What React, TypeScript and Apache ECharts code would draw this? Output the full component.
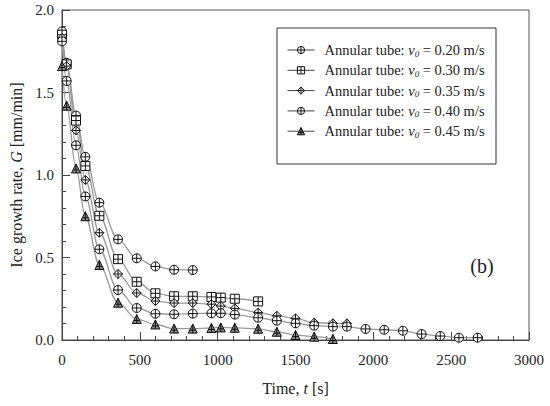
import React, { useEffect, useRef } from "react";
import * as echarts from "echarts";

const FONT = "'Liberation Serif', 'Times New Roman', serif";

// Time points [s] and ice growth rate G [mm/min] for each inlet velocity
const t020 = [0, 30, 90, 150, 240, 360, 480, 600, 720, 840];
const g020 = [1.87, 1.68, 1.36, 1.11, 0.832, 0.61, 0.495, 0.446, 0.426, 0.424];

const t030 = [0, 30, 90, 150, 240, 360, 480, 600, 720, 840, 960, 1020, 1110, 1260];
const g030 = [1.85, 1.67, 1.33, 1.055, 0.753, 0.49, 0.353, 0.283, 0.265, 0.265, 0.261, 0.257, 0.25, 0.234];

const t035 = [0, 30, 90, 150, 240, 360, 480, 600, 720, 840, 960, 1020, 1110, 1260, 1380, 1500, 1620, 1740, 1830];
const g035 = [1.83, 1.66, 1.27, 0.97, 0.65, 0.4, 0.285, 0.236, 0.224, 0.224, 0.217, 0.206, 0.192, 0.166, 0.147, 0.131, 0.105, 0.101, 0.101];

const t040 = [0, 30, 90, 150, 240, 360, 480, 600, 720, 840, 960, 1020, 1110, 1260, 1380, 1500, 1620, 1740, 1830, 1950, 2070, 2190, 2310, 2430, 2550, 2670];
const g040 = [1.81, 1.57, 1.18, 0.87, 0.55, 0.303, 0.194, 0.159, 0.156, 0.16, 0.162, 0.162, 0.154, 0.135, 0.117, 0.101, 0.087, 0.081, 0.081, 0.067, 0.062, 0.056, 0.036, 0.024, 0.014, 0.014];

const t045 = [0, 30, 90, 150, 240, 360, 480, 600, 720, 840, 960, 1020, 1110, 1260, 1380, 1500, 1620, 1740];
const g045 = [1.66, 1.42, 1.04, 0.75, 0.455, 0.226, 0.127, 0.094, 0.069, 0.069, 0.073, 0.076, 0.074, 0.068, 0.05, 0.03, 0.02, 0.006];

const velocities = ["0.20", "0.30", "0.35", "0.40", "0.45"];
const xTicks = [0, 500, 1000, 1500, 2000, 2500, 3000];
const yTicks = [0, 0.5, 1.0, 1.5, 2.0];

const CIRCLE = "path://M10 0 A10 10 0 1 1 10 20 A10 10 0 1 1 10 0 Z M10 0 L10 20 M0 10 L20 10";
const SQUARE = "path://M0 0 L20 0 L20 20 L0 20 Z M10 0 L10 20 M0 10 L20 10";
const DIAMOND = "path://M10 0 L20 10 L10 20 L0 10 Z M10 0 L10 20 M0 10 L20 10";
const TRIANGLE = "path://M10 0 L20 18 L0 18 Z M10 0 L10 18 M4 12 L16 12";

const MARK = { color: "#fff", borderColor: "#111", borderWidth: 1 };
const MARK_TRI = { color: "#8a8a8a", borderColor: "#111", borderWidth: 1 };

const seriesDefs = [
  { v: velocities[0], t: t020, g: g020, symbol: CIRCLE, style: MARK },
  { v: velocities[1], t: t030, g: g030, symbol: SQUARE, style: MARK },
  { v: velocities[2], t: t035, g: g035, symbol: DIAMOND, style: MARK },
  { v: velocities[3], t: t040, g: g040, symbol: CIRCLE, style: MARK },
  { v: velocities[4], t: t045, g: g045, symbol: TRIANGLE, style: MARK_TRI },
];

export default function App() {
  const ref = useRef<HTMLDivElement>(null);
  useEffect(() => {
    if (!ref.current) return;
    const chart = echarts.init(ref.current, null, { renderer: "svg" });
    const option: any = {
      animation: false,
      backgroundColor: "#fff",
      textStyle: { fontFamily: FONT, color: "#222" },
      grid: {
        left: 60,
        right: 21,
        top: 10,
        bottom: 66,
        show: true,
        borderColor: "#555",
        borderWidth: 1,
        backgroundColor: "transparent",
      },
      xAxis: {
        type: "value",
        min: xTicks[0],
        max: xTicks[xTicks.length - 1],
        interval: 500,
        name: "{n|Time, }{i|t}{n| [s]}",
        nameLocation: "middle",
        nameGap: 40,
        nameTextStyle: {
          fontFamily: FONT,
          fontSize: 16,
          color: "#222",
          rich: {
            n: { fontFamily: FONT, fontSize: 16, color: "#222" },
            i: { fontFamily: FONT, fontSize: 16, fontStyle: "italic", color: "#222" },
          },
        },
        axisLine: { show: true, lineStyle: { color: "#444", width: 1 } },
        axisTick: { show: true, inside: true, length: 8, lineStyle: { color: "#444" } },
        minorTick: { show: true, splitNumber: 5, length: 4, lineStyle: { color: "#444" } },
        splitLine: { show: false },
        axisLabel: {
          fontFamily: FONT,
          fontSize: 15,
          color: "#222",
          margin: 12,
          formatter: (v: number) => String(v),
        },
      },
      yAxis: {
        type: "value",
        min: yTicks[0],
        max: yTicks[yTicks.length - 1],
        interval: 0.5,
        name: "{n|Ice growth rate, }{i|G}{n| [mm/min]}",
        nameLocation: "middle",
        nameGap: 38,
        nameTextStyle: {
          fontFamily: FONT,
          fontSize: 16,
          color: "#222",
          rich: {
            n: { fontFamily: FONT, fontSize: 16, color: "#222" },
            i: { fontFamily: FONT, fontSize: 16, fontStyle: "italic", color: "#222" },
          },
        },
        axisLine: { show: true, lineStyle: { color: "#444", width: 1 } },
        axisTick: { show: true, inside: true, length: 8, lineStyle: { color: "#444" } },
        minorTick: { show: true, splitNumber: 5, length: 4, lineStyle: { color: "#444" } },
        splitLine: { show: false },
        axisLabel: {
          fontFamily: FONT,
          fontSize: 15,
          color: "#222",
          margin: 8,
          formatter: (v: number) => v.toFixed(1),
        },
      },
      legend: {
        orient: "vertical",
        left: 287,
        top: 42,
        padding: 0,
        itemWidth: 27,
        itemHeight: 9,
        itemGap: 4.3,
        data: seriesDefs.map((s) => ({ name: s.v, itemStyle: s.style })),
        lineStyle: { color: "#444", width: 1 },
        formatter: (name: string) => `{n|Annular tube: }{i|v}{s|0}{n| = ${name} m/s}`,
        textStyle: {
          fontFamily: FONT,
          fontSize: 14.5,
          color: "#222",
          lineHeight: 16,
          padding: [0, 0, 0, 5],
          rich: {
            n: { fontFamily: FONT, fontSize: 14.5, color: "#222", lineHeight: 16 },
            i: { fontFamily: FONT, fontSize: 14.5, fontStyle: "italic", color: "#222", lineHeight: 16 },
            s: {
              fontFamily: FONT,
              fontSize: 9,
              fontStyle: "italic",
              color: "#222",
              lineHeight: 16,
              verticalAlign: "bottom",
            },
          },
        },
      },
      graphic: [
        {
          type: "rect",
          z: 3,
          shape: { x: 277, y: 28, width: 219, height: 136 },
          style: { fill: "#fff", stroke: "#333", lineWidth: 1 },
        },
        {
          type: "text",
          z: 5,
          x: 482,
          y: 266,
          style: {
            text: "(b)",
            font: `20px ${FONT}`,
            fill: "#222",
            textAlign: "center",
            textVerticalAlign: "middle",
          },
        },
      ],
      series: seriesDefs.map((s) => ({
        name: s.v,
        type: "line",
        data: s.t.map((x, i) => [x, s.g[i]]),
        symbol: s.symbol,
        symbolSize: 9,
        showAllSymbol: true,
        smooth: 0.35,
        smoothMonotone: "x",
        lineStyle: { color: "#9a9a9a", width: 1.3 },
        itemStyle: s.style,
        emphasis: { disabled: true },
        z: 2,
      })),
    };
    chart.setOption(option);
    return () => chart.dispose();
  }, []);
  return (
    <div
      ref={ref}
      style={{ position: "absolute", left: 0, top: 0, width: 550, height: 406 }}
    />
  );
}
